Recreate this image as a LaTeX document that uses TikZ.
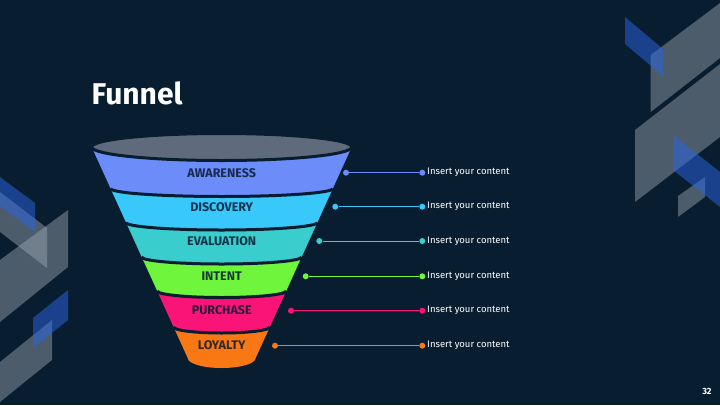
\documentclass[tikz,border=0pt]{standalone}
\usepackage{fontspec}
\setmainfont{Fira Sans}
\definecolor{bg}{HTML}{081E30}
\definecolor{ellc}{HTML}{5F6B7D}
\definecolor{cawa}{HTML}{6C8CFA}
\definecolor{cdis}{HTML}{38C8FA}
\definecolor{ceva}{HTML}{3ACDCD}
\definecolor{cint}{HTML}{6EF53C}
\definecolor{cpur}{HTML}{FA1478}
\definecolor{cloy}{HTML}{FA7814}
\definecolor{greyc}{HTML}{A0A8B4}
\definecolor{bluec}{HTML}{2A64E8}
\definecolor{labc}{HTML}{0B1A33}
% band: colour, top y, top depth, bottom y, bottom depth
\newcommand{\fband}[5]{%
 \pgfmathsetmacro{\fbwt}{130-0.455*(#2-147)}%
 \pgfmathsetmacro{\fbwb}{130-0.455*(#4-147)}%
 \fill[#1]
  ({221.7-\fbwt},#2) -- ({221.7-\fbwb},#4)
  .. controls ({221.7-\fbwb},{#4+0.552*#5}) and ({221.7-0.552*\fbwb},{#4+#5}) .. (221.7,{#4+#5})
  .. controls ({221.7+0.552*\fbwb},{#4+#5}) and ({221.7+\fbwb},{#4+0.552*#5}) .. ({221.7+\fbwb},#4)
  -- ({221.7+\fbwt},#2)
  .. controls ({221.7+\fbwt},{#2+0.552*#3}) and ({221.7+0.552*\fbwt},{#2+#3}) .. (221.7,{#2+#3})
  .. controls ({221.7-0.552*\fbwt},{#2+#3}) and ({221.7-\fbwt},{#2+0.552*#3}) .. cycle;
}
% separator: y, depth
\newcommand{\fsep}[2]{%
 \pgfmathsetmacro{\fbws}{130-0.455*(#1-147)}%
 \draw[bg, line width=3pt]
  ({221.7-\fbws},#1)
  .. controls ({221.7-\fbws},{#1+0.552*#2}) and ({221.7-0.552*\fbws},{#1+#2}) .. (221.7,{#1+#2})
  .. controls ({221.7+0.552*\fbws},{#1+#2}) and ({221.7+\fbws},{#1+0.552*#2}) .. ({221.7+\fbws},#1);
}
\begin{document}
\begin{tikzpicture}[x=1pt,y=-1pt,
  greyshape/.style={fill=greyc, fill opacity=0.45},
  blueshape/.style={fill=bluec, fill opacity=0.5},
  bandlabel/.style={font=\bfseries\fontsize{12.5}{14}\selectfont, text=labc, text opacity=0.85, inner sep=0pt},
  cdot/.style={circle, inner sep=0pt, minimum size=6pt, fill=#1},
  conn/.style={draw=#1, line width=1pt},
  content/.style={anchor=west, text=white, font=\fontsize{9.5}{12}\selectfont, inner sep=0pt}
]
\useasboundingbox (0,0) rectangle (720,405);
\fill[bg] (0,0) rectangle (720,405);

% decorations top right
\fill[greyshape] (650.7,55) -- (720,3) -- (720,58) -- (650.7,112) -- cycle;
\fill[greyshape] (635,130) -- (720,64) -- (720,137) -- (635,202) -- cycle;
\fill[greyshape] (678,196) -- (705,177) -- (705,197) -- (678,217) -- cycle;
\fill[blueshape] (625,17) -- (663,49) -- (663,76) -- (625,44) -- cycle;
\fill[blueshape] (673,135) -- (720,172) -- (720,207) -- (673,170) -- cycle;

% decorations left
\fill[greyshape] (0,192) -- (47,228) -- (47,268) -- (0,232) -- cycle;
\fill[greyshape] (0,260) -- (68,210) -- (68,267) -- (0,322) -- cycle;
\fill[greyshape] (0,362) -- (52,320) -- (52,360) -- (0,402) -- cycle;
\fill[blueshape] (0,177) -- (35,203) -- (35,232) -- (0,206) -- cycle;
\fill[blueshape] (33,318) -- (68,290) -- (68,320) -- (33,348) -- cycle;

% title
\node[anchor=base west, inner sep=0pt, text=white, font=\bfseries\fontsize{30}{36}\selectfont] (title) at (91.5,104) {Funnel};

% funnel bands
\fband{cawa}{147}{13.5}{188.5}{8}
\fband{cdis}{188.5}{8}{222.5}{7.5}
\fband{ceva}{222.5}{7.5}{257}{7}
\fband{cint}{257}{7}{291}{6.5}
\fband{cpur}{291}{6.5}{327}{6}
\fband{cloy}{327}{6}{358}{10}
\fsep{188.5}{8}
\fsep{222.5}{7.5}
\fsep{257}{7}
\fsep{291}{6.5}
\fsep{327}{6}
\filldraw[fill=ellc, draw=bg, line width=3pt] (221.7,147) ellipse [x radius=130, y radius=13.5];

% band labels
\node[bandlabel] (lawa) at (221.7,172.7) {AWARENESS};
\node[bandlabel] (ldis) at (221.7,206.7) {DISCOVERY};
\node[bandlabel] (leva) at (221.7,241) {EVALUATION};
\node[bandlabel] (lint) at (221.7,276) {INTENT};
\node[bandlabel] (lpur) at (221.7,310.3) {PURCHASE};
\node[bandlabel] (lloy) at (221.7,345) {LOYALTY};

% connectors
\node[cdot=cawa] (a1) at (346,172.7) {};
\node[cdot=cawa] (b1) at (422.3,172.7) {};
\draw[conn=cawa] (a1) -- (b1);
\node[content] (t1) at ([xshift=1.5pt]b1.east) {Insert your content};

\node[cdot=cdis] (a2) at (335.3,206.7) {};
\node[cdot=cdis] (b2) at (422.3,206.7) {};
\draw[conn=cdis] (a2) -- (b2);
\node[content] (t2) at ([xshift=1.5pt]b2.east) {Insert your content};

\node[cdot=ceva] (a3) at (319.3,241) {};
\node[cdot=ceva] (b3) at (422.3,241) {};
\draw[conn=ceva] (a3) -- (b3);
\node[content] (t3) at ([xshift=1.5pt]b3.east) {Insert your content};

\node[cdot=cint] (a4) at (305.7,276.3) {};
\node[cdot=cint] (b4) at (422.3,276.3) {};
\draw[conn=cint] (a4) -- (b4);
\node[content] (t4) at ([xshift=1.5pt]b4.east) {Insert your content};

\node[cdot=cpur] (a5) at (291,310.7) {};
\node[cdot=cpur] (b5) at (422.3,310.7) {};
\draw[conn=cpur] (a5) -- (b5);
\node[content] (t5) at ([xshift=1.5pt]b5.east) {Insert your content};

\node[cdot=cloy] (a6) at (275,345.7) {};
\node[cdot=cloy] (b6) at (422.3,345.7) {};
\draw[conn=cloy] (a6) -- (b6);
\node[content] (t6) at ([xshift=1.5pt]b6.east) {Insert your content};

% page number
\node[text=white, font=\bfseries\fontsize{9}{10}\selectfont, inner sep=0pt] (pnum) at (707,391) {32};
\end{tikzpicture}
\end{document}
